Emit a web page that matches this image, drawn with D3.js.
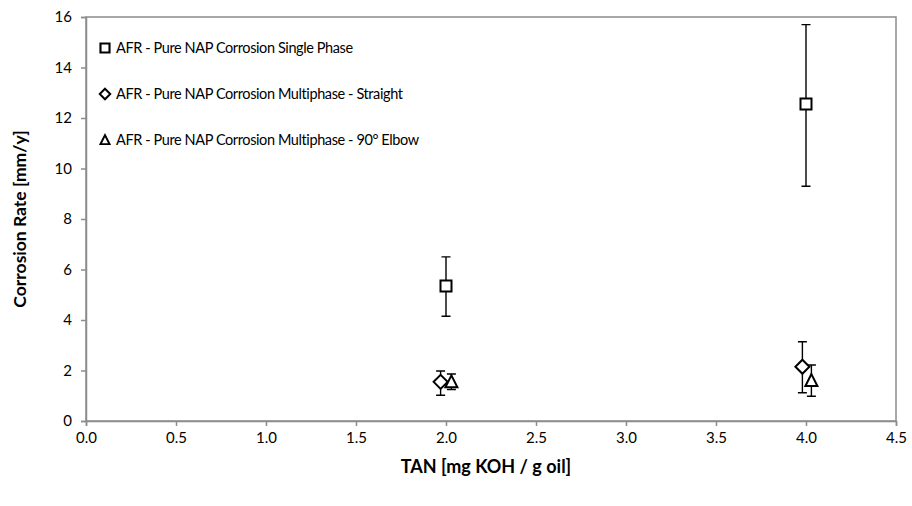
<!DOCTYPE html>
<html>
<head>
<meta charset="utf-8">
<script src="https://cdn.jsdelivr.net/npm/d3@7"></script>
<style>
	body { margin: 0; background: #fff; }
	svg { font-family: Lato, "Liberation Sans", sans-serif; }
</style>
</head>
<body>
<svg id="chart" width="912" height="506"></svg>
<script>
// series names
var seriesNames = [
	"AFR - Pure NAP Corrosion Single Phase",
	"AFR - Pure NAP Corrosion Multiphase - Straight",
	"AFR - Pure NAP Corrosion Multiphase - 90° Elbow"
];
var seriesSymbols = ["square", "diamond", "triangle"];

// values per series: tan, rate, error low, error high
var singleTan = [2.0, 4.0];
var singleRate = [5.35, 12.55];
var singleLow = [4.15, 9.3];
var singleHigh = [6.5, 15.7];

var straightTan = [1.97, 3.98];
var straightRate = [1.55, 2.15];
var straightLow = [1.02, 1.12];
var straightHigh = [1.98, 3.14];

var elbowTan = [2.03, 4.03];
var elbowRate = [1.55, 1.6];
var elbowLow = [1.25, 0.98];
var elbowHigh = [1.86, 2.22];

var xTicks = [0, 0.5, 1, 1.5, 2, 2.5, 3, 3.5, 4, 4.5];
var yTicks = [0, 2, 4, 6, 8, 10, 12, 14, 16];

function build(tan, rate, lo, hi) {
	return tan.map(function (t, i) {
		return { x: t, y: rate[i], lo: lo[i], hi: hi[i] };
	});
}
var series = [
	build(singleTan, singleRate, singleLow, singleHigh),
	build(straightTan, straightRate, straightLow, straightHigh),
	build(elbowTan, elbowRate, elbowLow, elbowHigh)
];

var svg = d3.select("#chart");
var margin = { top: 17, right: 16, bottom: 85, left: 86 };
var width = 912 - margin.left - margin.right;
var height = 506 - margin.top - margin.bottom;

var xScale = d3.scaleLinear().domain([0, 4.5]).range([0, width]);
var yScale = d3.scaleLinear().domain([0, 16]).range([height, 0]);

var g = svg.append("g")
	.attr("transform", "translate(" + margin.left + "," + margin.top + ")");

// plot frame (top/right)
g.append("rect")
	.attr("x", 0).attr("y", 0)
	.attr("width", width).attr("height", height)
	.attr("fill", "none")
	.attr("stroke", "#8c8c8c")
	.attr("stroke-width", 1.5);

var xAxis = g.append("g")
	.attr("transform", "translate(0," + height + ")")
	.call(d3.axisBottom(xScale).tickValues(xTicks).tickSize(5).tickFormat(d3.format(".1f")));

var yAxis = g.append("g")
	.call(d3.axisLeft(yScale).tickValues(yTicks).tickSize(5).tickFormat(d3.format("d")));

[xAxis, yAxis].forEach(function (ax) {
	ax.select(".domain").attr("stroke", "#8c8c8c").attr("stroke-width", 1.5);
	ax.selectAll(".tick line").attr("stroke", "#8c8c8c").attr("stroke-width", 1.5);
	ax.selectAll(".tick text")
		.attr("fill", "#000")
		.style("font-size", "15px")
		.style("font-family", "Lato, sans-serif");
});
xAxis.selectAll(".tick text").attr("y", 11);
yAxis.selectAll(".tick text").attr("x", -14);

// axis titles
g.append("text")
	.attr("x", width / 2 - 5)
	.attr("y", height + 52)
	.attr("text-anchor", "middle")
	.style("font-size", "18px")
	.style("font-weight", "bold")
	.text("TAN [mg KOH / g oil]");

g.append("text")
	.attr("transform", "rotate(-90)")
	.attr("x", -height / 2)
	.attr("y", -60)
	.attr("text-anchor", "middle")
	.style("font-size", "17.5px")
	.style("font-weight", "bold")
	.text("Corrosion Rate [mm/y]");

function symbolPath(type) {
	if (type === "square") return "M-5.5,-5.5H5.5V5.5H-5.5Z";
	if (type === "diamond") return "M0,-7L7,0L0,7L-7,0Z";
	return "M0,-6.5L6,5.5H-6Z";
}

series.forEach(function (data, si) {
	var sg = g.append("g");
	// error bars
	sg.selectAll(".err")
		.data(data)
		.enter()
		.append("path")
		.attr("fill", "none")
		.attr("stroke", "#000")
		.attr("stroke-width", 1.4)
		.attr("d", function (d) {
			var x = xScale(d.x), y0 = yScale(d.lo), y1 = yScale(d.hi);
			return "M" + x + "," + y0 + "V" + y1 +
				"M" + (x - 4.5) + "," + y0 + "H" + (x + 4.5) +
				"M" + (x - 4.5) + "," + y1 + "H" + (x + 4.5);
		});
	sg.selectAll(".pt")
		.data(data)
		.enter()
		.append("path")
		.attr("transform", function (d) {
			return "translate(" + xScale(d.x) + "," + yScale(d.y) + ")";
		})
		.attr("d", symbolPath(seriesSymbols[si]))
		.attr("fill", "#fff")
		.attr("stroke", "#000")
		.attr("stroke-width", 2);
});

// legend
var legend = svg.append("g").attr("transform", "translate(105,48)");
var items = legend.selectAll("g")
	.data(seriesNames)
	.enter()
	.append("g")
	.attr("transform", function (d, i) { return "translate(0," + i * 46 + ")"; });
items.append("path")
	.attr("d", function (d, i) {
		return symbolPath(seriesSymbols[i]);
	})
	.attr("transform", function (d, i) { return i === 0 ? "scale(0.82)" : "scale(0.75)"; })
	.attr("fill", "#fff")
	.attr("stroke", "#000")
	.attr("stroke-width", 2.6);
items.append("text")
	.attr("x", 11)
	.attr("dy", "0.35em")
	.style("font-size", "14.5px")
	.style("letter-spacing", "-0.4px")
	.text(function (d) { return d; });
</script>
</body>
</html>
